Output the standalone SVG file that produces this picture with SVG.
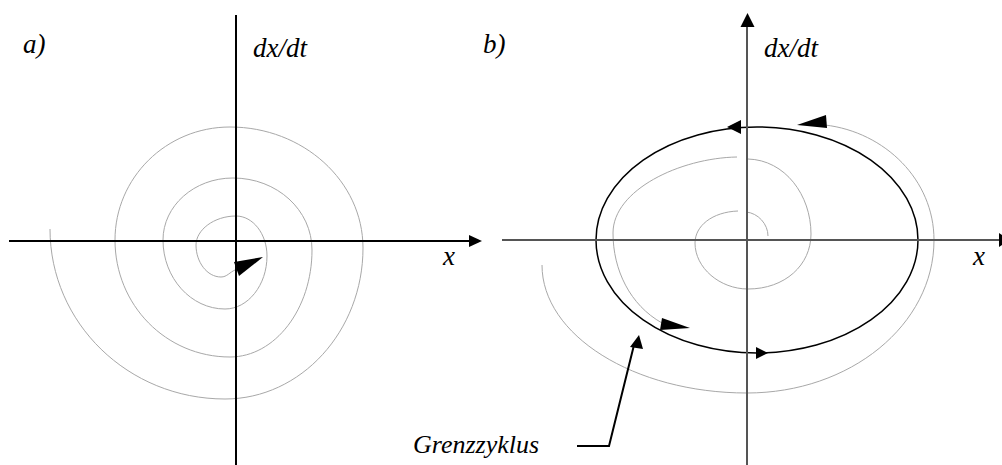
<svg xmlns="http://www.w3.org/2000/svg" width="1002" height="465" viewBox="0 0 1002 465">
<style>
.lbl{font-family:'Liberation Serif','Times New Roman','DejaVu Serif',serif;font-style:italic;font-size:27px;fill:#000}
.traj{fill:none;stroke:#a8a8a8;stroke-width:1}
.axA{stroke:#000;stroke-width:2;fill:none}
.axB{stroke:#555;stroke-width:2;fill:none}
.head{fill:#000;stroke:none}
</style>
<rect width="1002" height="465" fill="#fff"/>
<g id="panel-a">
  <path class="traj" d="M50,229 C50,323 128,399 225,399 C301,399 363,331 363,248 C363,181 303,127 230,127 C166,127 115,178 115,240 C115,305 166,357 230,357 C275,357 312,309 312,250 C312,210 277,178 233,178 C194,178 163,206 163,240 C163,278 191,309 225,309 C248,309 267,285 267,256 C267,234 253,216 236,216 C214,216 196,230 196,245 C196,262 207,277 221,277 C227,277 230,272 235,270"/>
  <line class="axA" x1="236" y1="15" x2="236" y2="465"/>
  <line class="axA" x1="9" y1="241" x2="470" y2="241"/>
  <polygon class="head" points="482,241 469,235 469,247"/>
  <polygon class="head" points="234,262 263,257 239,276"/>
  <text class="lbl" x="23" y="53">a)</text>
  <text class="lbl" x="253" y="57">dx/dt</text>
  <text class="lbl" x="443" y="265">x</text>
</g>
<g id="panel-b">
  <path class="traj" d="M768,236 C768,224 758,213 746,212"/>
  <path class="traj" d="M738,211 C712,212 695,226 695,243 C695,268 720,289 748,289 C785,289 811,265 811,234 C811,195 785,160 748,159"/>
  <path class="traj" d="M737,157 C680,158 613,190 613,233 C613,270 630,305 662,323"/>
  <path class="traj" d="M542,265 C542,335 634,393 747,393 C850,393 934,325 934,240 C934,180 885,132 825,125"/>
  <ellipse cx="757" cy="240" rx="161" ry="113" fill="none" stroke="#000" stroke-width="1.5"/>
  <line class="axB" x1="747" y1="26" x2="747" y2="465"/>
  <polygon class="head" points="747.5,13 740.5,27 754.5,27"/>
  <line class="axB" x1="502" y1="240" x2="1000" y2="240"/>
  <polygon class="head" points="1010,240 999,233 999,247"/>
  <polygon class="head" points="727,127 741,120 741,134"/>
  <polygon class="head" points="768,353 756,347 756,359"/>
  <polygon class="head" points="797,125 826,115 827,128"/>
  <polygon class="head" points="662,318 690,328 660,330"/>
  <text class="lbl" x="764" y="57">dx/dt</text>
  <text class="lbl" x="483" y="53">b)</text>
  <text class="lbl" x="973" y="265">x</text>
</g>
<g id="label-grenzzyklus">
  <text class="lbl" x="413" y="453" style="font-size:26px">Grenzzyklus</text>
</g>
<g id="connectors">
  <polyline points="577,446 609,446 634,345" fill="none" stroke="#000" stroke-width="2"/>
  <polygon class="head" points="639,335 630,347 643,349"/>
</g>
</svg>
